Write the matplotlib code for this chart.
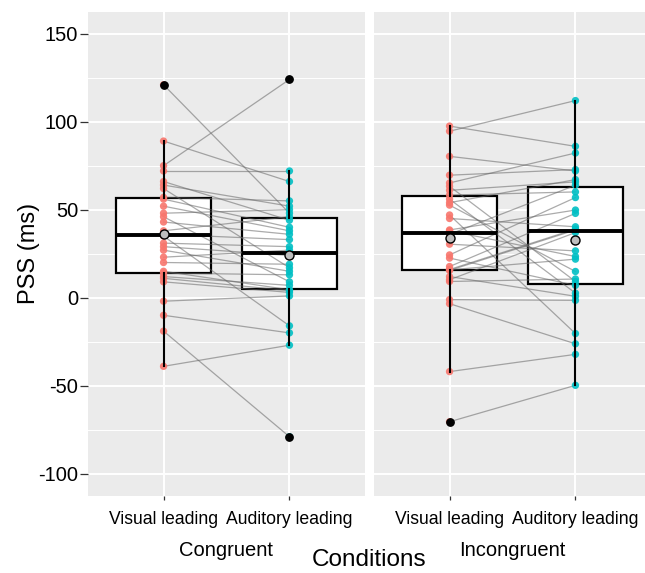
import matplotlib
matplotlib.use("Agg")
import matplotlib.pyplot as plt
import numpy as np

plt.rcParams['font.family'] = ['Liberation Sans', 'DejaVu Sans']

# ---- data (PSS in ms), paired per participant ----
categories = ["Visual leading", "Auditory leading"]
panels = ["Congruent", "Incongruent"]

congruent_visual = [121, 89, 75, 72, 66, 64, 62, 57, 56, 52, 48, 46, 43, 38, 36,
                    35, 31, 29, 27, 23, 20, 15, 14, 12, 11, 9, -2, -10, -19, -39]
congruent_auditory = [48, 66, 124, 72, 44, 52, 17, 55, 40, 38, 50, 9, 36, 46, 33,
                      -16, 29, 24, 15, 27, 19, 4.5, 13, 7, 4, 3, 1, -20, -79, -27]

incongruent_visual = [97.5, 94.6, 80.3, 69.6, 65.2, 63.3, 61, 58.3, 56, 54, 52.6, 47,
                      45, 38.5, 38, 36, 30.4, 24.3, 22.5, 17.7, 16, 15.8, 15.5, 12,
                      10.2, 9.2, -1.1, -3.4, -42, -70.5]
incongruent_auditory = [86, 112, 72, 72.8, 82.2, 9.2, 65.8, 60.1, 2.6, 67.1, 14.9,
                        -20.4, 40.3, 49.8, 23.4, 63.9, 26.6, 56.9, 7, 47.9, 39, 21.9,
                        38.5, 0.8, 37, 10.6, -1.5, -26.2, -32.2, -49.8]

yticks = [-100, -50, 0, 50, 100, 150]
ytick_labels = ["-100", "-50", "0", "50", "100", "150"]

colors = ["#F8766D", "#00BFC4"]

W, H = 645, 573
fig = plt.figure(figsize=(W / 100, H / 100), dpi=100)

top_px, bot_px = 11.7, 495.5
panel_w = 277
lefts = [88, 374]
axes = []
for lp in lefts:
    ax = fig.add_axes([lp / W, 1 - bot_px / H, panel_w / W, (bot_px - top_px) / H])
    axes.append(ax)

datasets = [(congruent_visual, congruent_auditory),
            (incongruent_visual, incongruent_auditory)]

for i, (ax, (vis, aud)) in enumerate(zip(axes, datasets)):
    ax.set_facecolor("#EBEBEB")
    for s in ax.spines.values():
        s.set_visible(False)
    ax.set_xlim(0.4, 2.6)
    ax.set_ylim(-112.4, 162.5)

    # grid
    for y in yticks:
        ax.axhline(y, color="white", lw=1.4, zorder=0.5)
    for y in [-75, -25, 25, 75, 125]:
        ax.axhline(y, color="white", lw=0.7, zorder=0.5)
    for x in [1, 2]:
        ax.axvline(x, color="white", lw=1.4, zorder=0.5)

    bp = ax.boxplot([vis, aud], positions=[1, 2], widths=0.75, patch_artist=True,
                    showcaps=False, showmeans=True, whis=1.5,
                    boxprops=dict(facecolor="white", edgecolor="black", linewidth=1.6),
                    whiskerprops=dict(color="black", linewidth=1.5),
                    medianprops=dict(color="black", linewidth=2.8),
                    meanprops=dict(marker="o", markerfacecolor="#BEBEBE",
                                   markeredgecolor="black", markersize=6.5,
                                   markeredgewidth=1.0),
                    flierprops=dict(marker="o", markerfacecolor="black",
                                    markeredgecolor="black", markersize=5.3))
    for b in bp["boxes"]:
        b.set_zorder(2)
    for w in bp["whiskers"]:
        w.set_zorder(4.5)
    for m in bp["medians"]:
        m.set_zorder(5)
    for f in bp["fliers"]:
        f.set_zorder(5.5)
    for m in bp["means"]:
        m.set_zorder(6)

    # paired lines
    for v, a in zip(vis, aud):
        ax.plot([1, 2], [v, a], color="#666666", alpha=0.55, lw=0.9, zorder=3)
    ax.scatter(np.full(len(vis), 1), vis, s=28, color=colors[0], alpha=0.9,
               edgecolors="none", zorder=4)
    ax.scatter(np.full(len(aud), 2), aud, s=28, color=colors[1], alpha=0.9,
               edgecolors="none", zorder=4)

    ax.set_xticks([1, 2])
    ax.set_xticklabels(categories, fontsize=12.7, color="black")
    ax.tick_params(axis="x", length=3.2, width=0.9, color="#333333", pad=8)
    ax.set_yticks(yticks)
    if i == 0:
        ax.set_yticklabels(ytick_labels, fontsize=14.5, color="black")
        ax.tick_params(axis="y", length=5.5, width=0.9, color="#333333", pad=1.5)
    else:
        ax.tick_params(axis="y", length=0, labelleft=False)

    # strip label at bottom
    cx = (lefts[i] + panel_w / 2) / W
    fig.text(cx, 1 - 550 / H, panels[i], ha="center", va="center", fontsize=14.5)

fig.text((88 + 374 + panel_w) / 2 / W, 1 - 560 / H, "Conditions",
         ha="center", va="center", fontsize=17.5)
fig.text(29 / W, 1 - (top_px + bot_px) / 2 / H, "PSS (ms)", rotation=90,
         ha="center", va="center", fontsize=17)

fig.savefig("out.png", dpi=100, facecolor="white")
